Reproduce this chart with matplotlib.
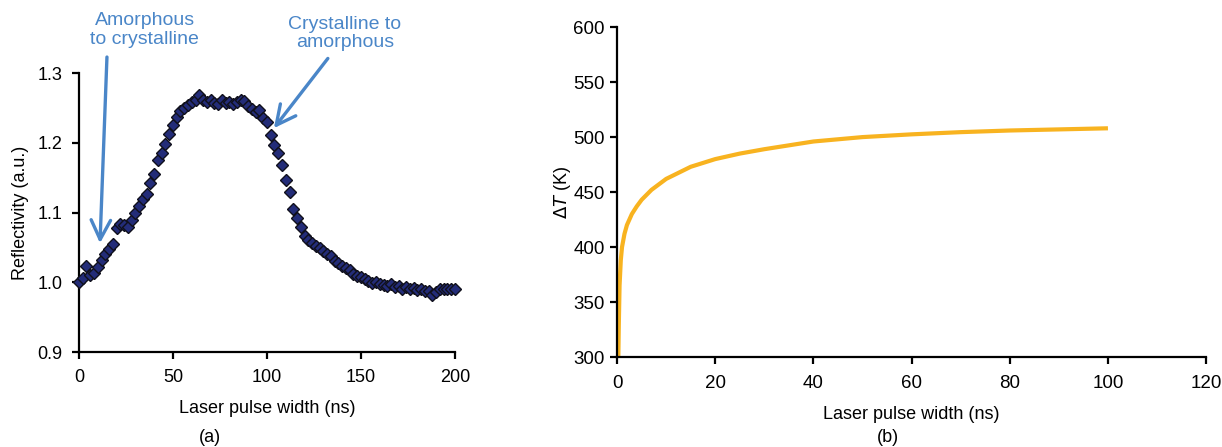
import matplotlib
matplotlib.use("Agg")
import matplotlib.pyplot as plt

plt.rcParams['font.family'] = ['Liberation Sans', 'DejaVu Sans']

# Panel (a): reflectivity vs laser pulse width
pulse_a = [0, 2, 4, 6, 8, 10, 12, 14, 16, 18, 20, 22, 24, 26, 28, 30, 32, 34, 36, 38,
           40, 42, 44, 46, 48, 50, 52, 54, 56, 58, 60, 62, 64, 66, 68, 70, 72, 74, 76, 78,
           80, 82, 84, 86, 88, 90, 92, 94, 96, 98, 100, 102, 104, 106, 108, 110, 112, 114,
           116, 118, 120, 122, 124, 126, 128, 130, 132, 134, 136, 138, 140, 142, 144, 146,
           148, 150, 152, 154, 156, 158, 160, 162, 164, 166, 168, 170, 172, 174, 176, 178,
           180, 182, 184, 186, 188, 190, 192, 194, 196, 198, 200]
reflectivity = [1.000, 1.006, 1.024, 1.010, 1.014, 1.022, 1.032, 1.041, 1.048, 1.055,
                1.078, 1.083, 1.082, 1.079, 1.090, 1.100, 1.110, 1.120, 1.126, 1.142,
                1.155, 1.176, 1.186, 1.198, 1.212, 1.226, 1.237, 1.245, 1.250, 1.254,
                1.258, 1.262, 1.268, 1.262, 1.258, 1.262, 1.257, 1.256, 1.262, 1.257,
                1.258, 1.256, 1.258, 1.262, 1.260, 1.253, 1.248, 1.244, 1.247, 1.236,
                1.230, 1.211, 1.197, 1.185, 1.168, 1.146, 1.129, 1.105, 1.092, 1.079,
                1.067, 1.060, 1.056, 1.052, 1.049, 1.045, 1.040, 1.038, 1.030, 1.028,
                1.024, 1.020, 1.017, 1.012, 1.009, 1.007, 1.005, 1.002, 0.999, 1.000,
                0.998, 0.996, 0.995, 0.997, 0.993, 0.994, 0.991, 0.993, 0.990, 0.992,
                0.989, 0.990, 0.988, 0.987, 0.982, 0.986, 0.990, 0.990, 0.990, 0.991,
                0.990]
xticks_a = [0, 50, 100, 150, 200]
yticks_a = [0.9, 1.0, 1.1, 1.2, 1.3]

# Panel (b): temperature rise vs laser pulse width
pulse_b = [0.25, 0.35, 0.5, 0.75, 1, 1.5, 2, 3, 4, 5, 7, 10, 15, 20, 25, 30, 40, 50,
           60, 70, 80, 90, 100]
delta_T = [300, 330, 365, 388, 400, 412, 420, 430, 437, 443, 452, 462, 473, 480, 485,
           489, 496, 500, 502.5, 504.5, 506, 507, 508]
xticks_b = [0, 20, 40, 60, 80, 100, 120]
yticks_b = [300, 350, 400, 450, 500, 550, 600]

fig = plt.figure(figsize=(12.22, 4.47), dpi=100)

# ---------- panel (a) ----------
ax1 = fig.add_axes([0.0646, 0.2125, 0.3077, 0.624])
ax1.plot(pulse_a, reflectivity, linestyle='none', marker='D', markersize=6.5,
         markerfacecolor='#232c78', markeredgecolor='#10101c', markeredgewidth=1.0,
         clip_on=False, zorder=3)
ax1.set_xlim(0, 200)
ax1.set_ylim(0.9, 1.3)
ax1.set_xticks(xticks_a)
ax1.set_yticks(yticks_a)
ax1.set_yticklabels([f"{v:.1f}" for v in yticks_a])
for s in ['top', 'right']:
    ax1.spines[s].set_visible(False)
for s in ['left', 'bottom']:
    ax1.spines[s].set_linewidth(1.6)
ax1.tick_params(direction='out', length=5, width=1.6, labelsize=13, pad=7)
ax1.set_xlabel('Laser pulse width (ns)', fontsize=13, labelpad=10)
ax1.set_ylabel('Reflectivity (a.u.)', fontsize=13, labelpad=6)

arrow_col = '#4a86c8'
arrow_props = dict(arrowstyle='->,head_length=0.7,head_width=0.35', color=arrow_col,
                   lw=2.4, mutation_scale=20, shrinkA=0, shrinkB=0)
ax1.annotate('', xy=(11.2, 1.056), xytext=(14.9, 1.323), annotation_clip=False,
             arrowprops=arrow_props)
ax1.annotate('', xy=(103.7, 1.221), xytext=(132.4, 1.321), annotation_clip=False,
             arrowprops=arrow_props)
ax1.text(35, 1.362, 'Amorphous\nto crystalline', ha='center', va='center',
         fontsize=14, color=arrow_col, linespacing=1.1, clip_on=False)
ax1.text(141.5, 1.357, 'Crystalline to\namorphous', ha='center', va='center',
         fontsize=14, color=arrow_col, linespacing=1.1, clip_on=False)
fig.text(0.1718, 0.022, '(a)', ha='center', va='center', fontsize=13)

# ---------- panel (b) ----------
ax2 = fig.add_axes([0.505, 0.2013, 0.482, 0.738])
ax2.plot(pulse_b, delta_T, color='#f8b320', lw=3.0, solid_capstyle='butt', clip_on=False)
ax2.set_xlim(0, 120)
ax2.set_ylim(300, 600)
ax2.set_xticks(xticks_b)
ax2.set_yticks(yticks_b)
for s in ['top', 'right']:
    ax2.spines[s].set_visible(False)
for s in ['left', 'bottom']:
    ax2.spines[s].set_linewidth(1.6)
ax2.tick_params(direction='out', length=5, width=1.6, labelsize=13.5, pad=4)
ax2.tick_params(axis='x', pad=8)
ax2.set_xlabel('Laser pulse width (ns)', fontsize=13, labelpad=10)
ax2.set_ylabel(r'$\Delta T$ (K)', fontsize=13, labelpad=0)
fig.text(0.7267, 0.022, '(b)', ha='center', va='center', fontsize=13)

fig.savefig('out.png', dpi=100)
